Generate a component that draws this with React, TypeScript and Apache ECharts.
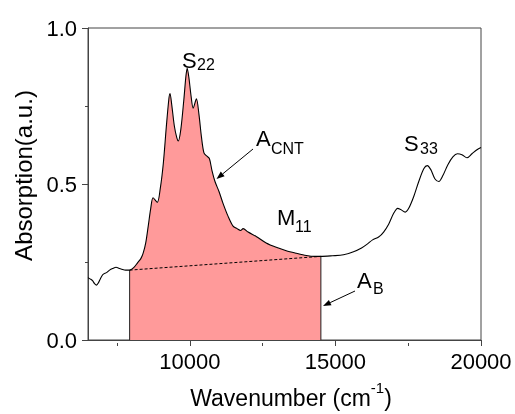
import React, { useEffect, useRef } from "react";
import * as echarts from "echarts";

const wavenumber = [
  6500, 6586, 6655, 6724, 6793, 6862, 6931, 7017, 7138, 7241, 7345, 7466, 7552, 7655, 7793,
  7930, 8069, 8207, 8310, 8397, 8483, 8569, 8655, 8735, 8879, 8983, 9086, 9190, 9276, 9317,
  9379, 9466, 9552, 9603, 9690, 9793, 9862, 9907, 9966, 10034, 10114, 10224, 10310, 10397,
  10483, 10586, 10672, 10759, 10862, 11000, 11138, 11310, 11483, 11621, 11741, 11828, 12000,
  12276, 12621, 12966, 13310, 13655, 14000, 14276, 14500, 14897, 15276, 15621, 15897, 16103,
  16276, 16483, 16655, 16828, 17000, 17138, 17241, 17397, 17517, 17690, 17862, 18034, 18155,
  18276, 18414, 18552, 18690, 18862, 19034, 19190, 19345, 19517, 19690, 19862, 20000,
];
const absorption = [
  0.2, 0.195, 0.19, 0.181, 0.176, 0.184, 0.197, 0.21, 0.216, 0.224, 0.229, 0.233, 0.23, 0.227, 0.224,
  0.224, 0.232, 0.248, 0.26, 0.279, 0.311, 0.365, 0.422, 0.456, 0.441, 0.486, 0.565, 0.683, 0.771, 0.79,
  0.752, 0.686, 0.648, 0.638, 0.676, 0.771, 0.844, 0.871, 0.841, 0.787, 0.743, 0.773, 0.724, 0.651,
  0.6, 0.589, 0.581, 0.543, 0.508, 0.476, 0.438, 0.397, 0.365, 0.357, 0.351, 0.357, 0.346,
  0.332, 0.311, 0.297, 0.286, 0.278, 0.271, 0.268, 0.268, 0.27, 0.273, 0.283, 0.295, 0.308,
  0.321, 0.33, 0.346, 0.371, 0.406, 0.422, 0.418, 0.41, 0.422, 0.46, 0.508, 0.549, 0.559,
  0.546, 0.517, 0.508, 0.527, 0.562, 0.587, 0.597, 0.594, 0.584, 0.597, 0.61, 0.617,
];
const xTicks = [10000, 15000, 20000];
const xMinorTicks = [7500, 12500, 17500];
const fillRange = [7930, 14500];

const FONT = "'Liberation Sans', Arial, sans-serif";
const AXIS = "#444";
const GRID = { left: 88, right: 34, top: 28, bottom: 71 };
const PLOT_H = 414 - GRID.top - GRID.bottom;

export default function App() {
  const ref = useRef<HTMLDivElement>(null);
  useEffect(() => {
    const chart = echarts.init(ref.current!, null, { renderer: "svg" });
    const curve = wavenumber.map((x, i) => [x, absorption[i]]);
    const fill = curve.filter((p) => p[0] >= fillRange[0] && p[0] <= fillRange[1]);
    const yStart = fill[0][1];
    const yEnd = fill[fill.length - 1][1];
    const smooth = 0.3;

    const txt = (text: string, x: number, y: number, size: number) => ({
      type: "text",
      x,
      y,
      style: { text, fontSize: size, fontFamily: FONT, fill: "#000", textAlign: "left", textVerticalAlign: "middle" },
    });

    const option: any = {
      animation: false,
      textStyle: { fontFamily: FONT },
      grid: { ...GRID, show: true, borderColor: AXIS, borderWidth: 1 },
      xAxis: [
        {
          type: "value",
          min: 6500,
          max: 20000,
          position: "bottom",
          name: "{a|Wavenumber (cm}{b|-1}{a|)}",
          nameLocation: "middle",
          nameGap: 40,
          nameTextStyle: {
            padding: [0, 0, 0, 13],
            rich: {
              a: { fontSize: 23, fontFamily: FONT, color: "#000", lineHeight: 35 },
              b: { fontSize: 15, fontFamily: FONT, color: "#000", lineHeight: 15, verticalAlign: "top" },
            },
          },
          axisLine: { show: true, lineStyle: { color: AXIS, width: 1 } },
          axisTick: { show: true, customValues: xTicks, length: 6, lineStyle: { color: AXIS } },
          axisLabel: {
            customValues: xTicks,
            fontSize: 22,
            color: "#000",
            margin: 10,
            fontFamily: FONT,
            formatter: (v: number) => String(v),
          },
          splitLine: { show: false },
        },
        {
          type: "value",
          min: 6500,
          max: 20000,
          position: "top",
          offset: -PLOT_H,
          axisLine: { show: false },
          axisTick: { show: true, inside: true, customValues: xMinorTicks, length: 3, lineStyle: { color: AXIS } },
          axisLabel: { show: false },
          splitLine: { show: false },
        },
      ],
      yAxis: {
        type: "value",
        min: 0,
        max: 1,
        interval: 0.5,
        name: "Absorption(a.u.)",
        nameLocation: "middle",
        nameGap: 52,
        nameTextStyle: { fontSize: 24, color: "#000", fontFamily: FONT, padding: [0, 0, 0, 17] },
        axisLine: { show: true, lineStyle: { color: AXIS, width: 1 } },
        axisTick: { show: true, length: 6, lineStyle: { color: AXIS } },
        minorTick: { show: true, splitNumber: 2, length: 3, lineStyle: { color: AXIS } },
        axisLabel: { fontSize: 22, color: "#000", margin: 11, fontFamily: FONT, formatter: (v: number) => v.toFixed(1) },
        splitLine: { show: false },
      },
      series: [
        {
          type: "line",
          data: fill,
          smooth,
          showSymbol: false,
          lineStyle: { width: 0 },
          areaStyle: { color: "#ff9a9a", opacity: 1 },
          z: 1,
        },
        {
          type: "line",
          data: [[fillRange[0], 0], [fillRange[0], yStart]],
          showSymbol: false,
          lineStyle: { color: "#222", width: 1 },
          z: 3,
        },
        {
          type: "line",
          data: [[fillRange[1], 0], [fillRange[1], yEnd]],
          showSymbol: false,
          lineStyle: { color: "#222", width: 1 },
          z: 3,
        },
        {
          type: "line",
          data: [[fillRange[0], yStart], [fillRange[1], yEnd]],
          showSymbol: false,
          lineStyle: { color: "#000", width: 1, type: [3, 2] },
          z: 3,
        },
        {
          type: "line",
          data: curve,
          smooth,
          showSymbol: false,
          lineStyle: { color: "#000", width: 1.1 },
          z: 4,
        },
      ],
      graphic: [
        txt("S", 182, 60, 22),
        txt("22", 197, 64, 16),
        txt("A", 256, 138, 22),
        txt("CNT", 271, 148, 16),
        txt("M", 277, 217, 22),
        txt("11", 295, 226, 16),
        txt("S", 404, 143, 22),
        txt("33", 420, 148, 16),
        txt("A", 357, 280, 22),
        txt("B", 373, 288, 16),
        { type: "line", shape: { x1: 253, y1: 149, x2: 222.7, y2: 173.9 }, style: { stroke: "#000", lineWidth: 1 } },
        { type: "polygon", shape: { points: [[216.5, 179], [224.6, 176.2], [220.8, 171.6]] }, style: { fill: "#000" } },
        { type: "line", shape: { x1: 355, y1: 291, x2: 330.2, y2: 302.6 }, style: { stroke: "#000", lineWidth: 1 } },
        { type: "polygon", shape: { points: [[323, 306], [331.5, 305.3], [328.9, 299.9]] }, style: { fill: "#000" } },
      ],
    };
    chart.setOption(option);
    return () => chart.dispose();
  }, []);
  return <div ref={ref} style={{ position: "fixed", left: 0, top: 0, width: 515, height: 414 }} />;
}
